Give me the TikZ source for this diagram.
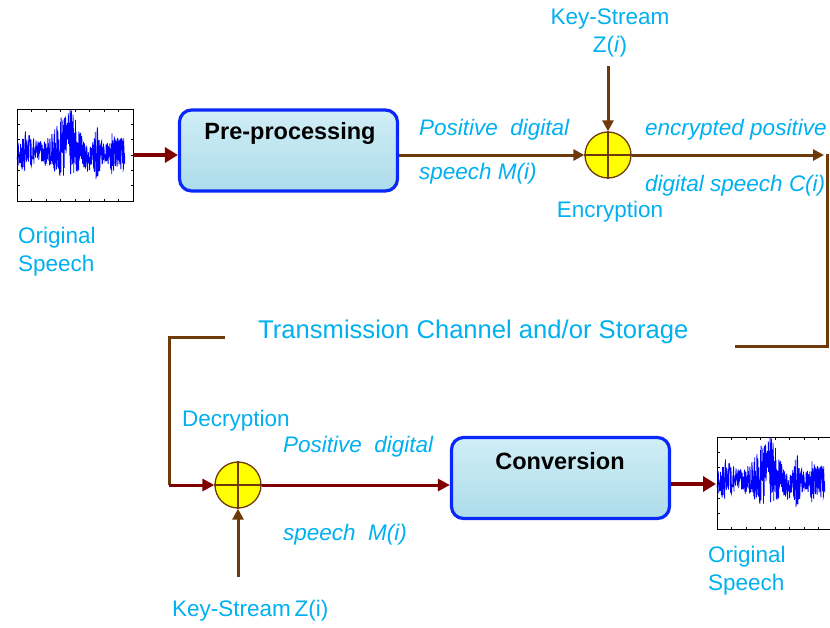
\documentclass[tikz,border=0pt]{standalone}
\usepackage{fontspec}
\setmainfont{Liberation Sans}
\usetikzlibrary{arrows.meta}
\definecolor{txtblue}{RGB}{0,176,240}
\definecolor{lbrown}{RGB}{110,58,10}
\definecolor{dred}{RGB}{128,0,0}
\definecolor{boxblue}{RGB}{10,40,250}
\definecolor{boxfillA}{RGB}{208,238,246}
\definecolor{boxfillB}{RGB}{172,220,234}
\definecolor{xoryellow}{RGB}{255,255,0}
\newcommand\speechplot[2]{%
  \begin{scope}[shift={(#1,#2)}]
    \pgfmathsetseed{23}
    \draw[blue, line width=0.8pt] plot[domain=0:0.93, samples=420, variable=\t]
      ({\t*116},{92*(1-(0.52+0.12*exp(-((\t-0.45)/0.1)^2)+0.05*exp(-((\t-0.1)/0.05)^2)
        -0.08*exp(-((\t-0.6)/0.05)^2)
        +(0.12+0.26*exp(-((\t-0.43)/0.12)^2)+0.12*exp(-((\t-0.08)/0.05)^2)
        +0.18*exp(-((\t-0.69)/0.025)^2)+0.1*exp(-((\t-0.82)/0.03)^2)
        +0.06*exp(-((\t-0.9)/0.06)^2))*rand))});
    \draw[black, line width=0.8pt] (0,0) rectangle (116,92);
    \foreach \k in {1,...,7} {\draw[black, line width=0.5pt] (\k*14.5,92) -- (\k*14.5,89.5);
                               \draw[black, line width=0.5pt] (\k*14.5,0) -- (\k*14.5,2.5);}
    \foreach \k in {1,...,6} {\draw[black, line width=0.5pt] (0,\k*15.3) -- (2.5,\k*15.3);
                               \draw[black, line width=0.5pt] (116,\k*15.3) -- (113.5,\k*15.3);}
  \end{scope}}
\begin{document}
\begin{tikzpicture}[x=1pt,y=-1pt,
  lbl/.style={text=txtblue, font=\fontsize{22.5}{28}\selectfont, inner sep=0pt},
  ilbl/.style={lbl, font=\fontsize{22.5}{28}\selectfont\itshape},
  procbox/.style={draw=boxblue, line width=3.2pt, rounded corners=12pt,
     top color=boxfillA, bottom color=boxfillB, minimum width=218pt, minimum height=81pt},
  xor/.style={circle, draw=lbrown, line width=1.3pt, fill=xoryellow, minimum size=46pt, inner sep=0pt},
  bline/.style={draw=lbrown, line width=3pt},
  barrow/.style={bline, -{Triangle[length=11pt,width=11pt]}},
  rarrow/.style={draw=dred, line width=4pt, -{Triangle[length=13pt,width=15pt]}},
  rarrowthin/.style={draw=dred, line width=3pt, -{Triangle[length=12pt,width=12pt]}},
  boxtxt/.style={font=\fontsize{23.5}{26}\selectfont\bfseries, text=black}
]
\useasboundingbox (0,0) rectangle (830,627);
\fill[white] (0,0) rectangle (830,627);

% plots
\speechplot{17}{109}
\speechplot{717}{437}
\coordinate (p1e) at (133,155);
\coordinate (p2w) at (716,484);

% boxes
\node[procbox] (pre) at (288.5,150.5) {};
\node[boxtxt] (pretxt) at (290,133) {Pre-processing};
\node[procbox] (conv) at (560.5,478) {};
\node[boxtxt] (convtxt) at (560,461) {Conversion};

% xor circles
\node[xor] (x1) at (608,155) {};
\draw[lbrown, line width=1.3pt] (x1.north) -- (x1.south) (x1.west) -- (x1.east);
\node[xor] (x2) at (238,485) {};
\draw[lbrown, line width=1.3pt] (x2.north) -- (x2.south) (x2.west) -- (x2.east);

% labels
\node[lbl, anchor=west, align=left] (os1) at (18,252) {Original\\Speech};
\node[lbl, align=center] (ks1) at (610,33) {Key-Stream\\Z(\textit{i})};
\node[lbl] (enc) at (610,212) {Encryption};
\node[ilbl, anchor=west] (pd1) at (419,130) {Positive\ \ digital};
\node[ilbl, anchor=west] (sm1) at (419,174) {speech M(i)};
\node[ilbl, anchor=west] (ep) at (645,130) {encrypted positive};
\node[ilbl, anchor=west] (ds) at (645,186) {digital speech C(i)};
\node[lbl, anchor=west, font=\fontsize{25.6}{30}\selectfont] (tc) at (258,332) {Transmission Channel and/or Storage};
\node[lbl, anchor=west] (dec) at (182,421) {Decryption};
\node[ilbl, anchor=west] (pd2) at (283,447) {Positive\ \ digital};
\node[ilbl, anchor=west] (sm2) at (283,535) {speech\ \ M(i)};
\node[lbl, anchor=west, align=left] (os2) at (708,571) {Original\\Speech};
\node[lbl, anchor=west] (ks2) at (172,611) {Key-Stream\,Z(i)};

% coordinates
\coordinate (k1) at (608,66);
\coordinate (c1) at (824,155);
\coordinate (c1a) at (827,153.5);
\coordinate (c1b) at (827,346);
\coordinate (c1c) at (735,346);
\coordinate (c2a) at (225,337);
\coordinate (c2b) at (169,337);
\coordinate (c2c) at (169,485);
\coordinate (k2) at (238,577);

% connectors
\draw[rarrow] (p1e) -- (pre.west |- p1e);
\draw[barrow] (pre.east |- x1.west) -- (x1.west);
\draw[barrow] (k1) -- (x1.north);
\draw[barrow] (x1.east) -- (c1);
\draw[bline] (c1a) -- (c1b) -- (c1c);
\draw[bline] (c2a) -- (c2b) -- (c2c);
\draw[rarrowthin] (c2c) -- (x2.west);
\draw[barrow] (k2) -- (x2.south);
\draw[rarrowthin] (x2.east) -- (conv.west |- x2.east);
\draw[rarrow] (conv.east |- p2w) -- (p2w);
\end{tikzpicture}
\end{document}
